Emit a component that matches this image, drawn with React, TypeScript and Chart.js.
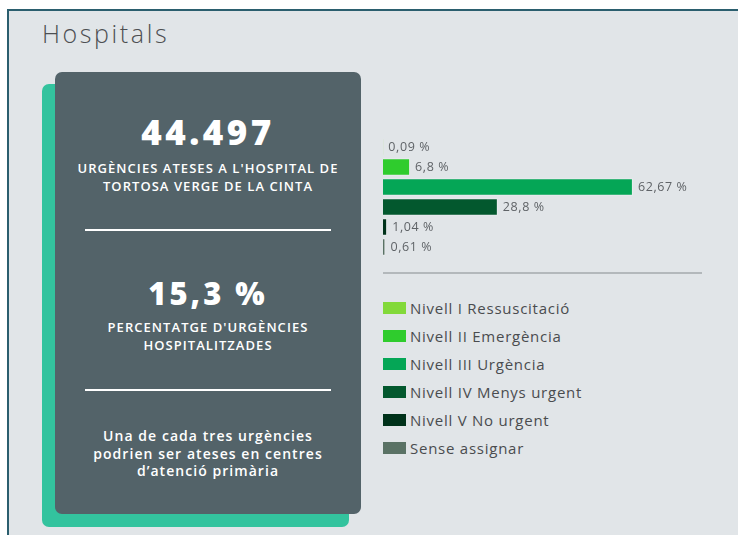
import React, { useEffect, useRef } from "react";
import { Chart, registerables } from "chart.js";

Chart.register(...registerables);

const categories = [
  "Nivell I Ressuscitació",
  "Nivell II Emergència",
  "Nivell III Urgència",
  "Nivell IV Menys urgent",
  "Nivell V No urgent",
  "Sense assignar",
];
const values = [0.09, 6.8, 62.67, 28.8, 1.04, 0.61];
const valueLabels = ["0,09 %", "6,8 %", "62,67 %", "28,8 %", "1,04 %", "0,61 %"];
const colors = ["#82d93a", "#2fcc2d", "#05a656", "#03582e", "#00321a", "#5a7265"];
const xMax = 80;

const FONT = "'Open Sans', 'DejaVu Sans', sans-serif";

const labelPlugin = {
  id: "valueLabels",
  afterDatasetsDraw(chart: any) {
    const ctx = chart.ctx;
    const meta = chart.getDatasetMeta(0);
    ctx.save();
    ctx.font = "500 12.5px " + FONT;
    try { (ctx as any).letterSpacing = "0.6px"; } catch (e) {}
    ctx.fillStyle = "#5f6367";
    ctx.textAlign = "left";
    ctx.textBaseline = "middle";
    meta.data.forEach((bar: any, i: number) => {
      ctx.fillText(valueLabels[i], bar.x + 5, bar.y);
    });
    ctx.restore();
  },
};

function BarChart() {
  const ref = useRef<HTMLCanvasElement | null>(null);
  useEffect(() => {
    if (!ref.current) return;
    const chart = new Chart(ref.current, {
      type: "bar",
      data: {
        labels: categories,
        datasets: [
          {
            data: values,
            backgroundColor: colors,
            borderColor: "rgba(255,255,255,0.3)",
            borderWidth: 1,
            categoryPercentage: 1,
            barPercentage: 0.88,
          },
        ],
      },
      options: {
        indexAxis: "y",
        animation: false,
        responsive: false,
        maintainAspectRatio: false,
        layout: { padding: { left: 0, right: 21, top: 0, bottom: 0 } },
        plugins: { legend: { display: false }, tooltip: { enabled: false } },
        scales: {
          x: { display: false, min: 0, max: xMax },
          y: { display: false },
        },
      },
      plugins: [labelPlugin],
    });
    return () => chart.destroy();
  }, []);
  return (
    <canvas
      ref={ref}
      width={340}
      height={120}
      style={{ position: "absolute", left: 383, top: 137, width: 340, height: 120 }}
    />
  );
}

export default function App() {
  const white = "#ffffff";
  return (
    <div
      style={{
        position: "absolute",
        left: 0,
        top: 0,
        width: 738,
        height: 535,
        background: "#ffffff",
        overflow: "hidden",
        fontFamily: FONT,
      }}
    >
      <div
        style={{
          position: "absolute",
          left: 7,
          top: 9,
          width: 760,
          height: 560,
          background: "#e1e5e8",
          borderTop: "2px solid #2b5e6e",
          borderLeft: "2px solid #2b5e6e",
        }}
      />
      <div
        style={{
          position: "absolute",
          left: 42,
          top: 16,
          fontSize: 25,
          fontWeight: 300,
          color: "#4d4f52",
          letterSpacing: 2.6,
          fontFamily: FONT,
        }}
      >
        Hospitals
      </div>
      {/* green shadow */}
      <div
        style={{
          position: "absolute",
          left: 42,
          top: 84,
          width: 307,
          height: 443,
          background: "#33c39e",
          borderRadius: 7,
        }}
      />
      {/* dark card */}
      <div
        style={{
          position: "absolute",
          left: 55,
          top: 72,
          width: 306,
          height: 442,
          background: "#536369",
          borderRadius: 7,
          color: white,
          textAlign: "center",
        }}
      >
        <div style={{ position: "absolute", top: 40, left: 0, right: 0, fontSize: 35, fontWeight: 800, letterSpacing: 3.5, lineHeight: "40px" }}>
          44.497
        </div>
        <div style={{ position: "absolute", top: 87, left: 0, right: 0, fontSize: 13, fontWeight: 600, letterSpacing: 1.05, lineHeight: "18px" }}>
          URGÈNCIES ATESES A L'HOSPITAL DE
          <br />
          TORTOSA VERGE DE LA CINTA
        </div>
        <div style={{ position: "absolute", top: 157, left: 30, width: 246, height: 2, background: "#ffffff" }} />
        <div style={{ position: "absolute", top: 202, left: 0, right: 0, fontSize: 31, fontWeight: 800, letterSpacing: 3, lineHeight: "38px" }}>
          15,3 %
        </div>
        <div style={{ position: "absolute", top: 246, left: 0, right: 0, fontSize: 13, fontWeight: 600, letterSpacing: 1.05, lineHeight: "18px" }}>
          PERCENTATGE D'URGÈNCIES
          <br />
          HOSPITALITZADES
        </div>
        <div style={{ position: "absolute", top: 317, left: 30, width: 246, height: 2, background: "#ffffff" }} />
        <div style={{ position: "absolute", top: 355, left: 0, right: 0, fontSize: 14, fontWeight: 600, letterSpacing: 1.05, lineHeight: "17.5px" }}>
          Una de cada tres urgències
          <br />
          podrien ser ateses en centres
          <br />
          d’atenció primària
        </div>
      </div>
      <BarChart />
      <div style={{ position: "absolute", left: 383, top: 272, width: 319, height: 2, background: "#b3b8bb" }} />
      {categories.map((c, i) => (
        <div
          key={c}
          style={{
            position: "absolute",
            left: 383,
            top: 298 + i * 28,
            height: 20,
            display: "flex",
            alignItems: "center",
          }}
        >
          <span style={{ display: "inline-block", width: 23, height: 12, background: colors[i], marginRight: 4 }} />
          <span style={{ fontSize: 15, fontWeight: 500, color: "#4a4c4f", letterSpacing: 0.75, whiteSpace: "nowrap" }}>{c}</span>
        </div>
      ))}
    </div>
  );
}
